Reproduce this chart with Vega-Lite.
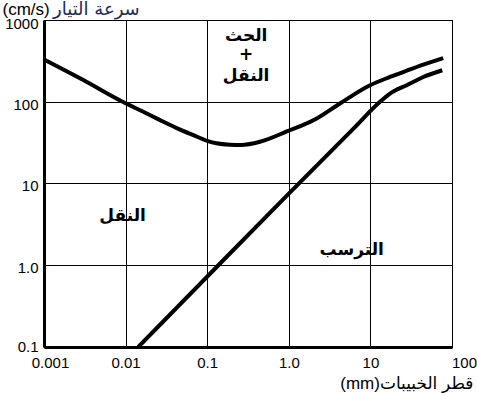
{
  "$schema": "https://vega.github.io/schema/vega-lite/v6.json",
  "autosize": {"type": "none"},
  "width": 408,
  "height": 327,
  "padding": {"left": 44, "top": 20, "right": 25, "bottom": 49},
  "background": "white",
  "config": {
    "view": {"stroke": "black", "strokeWidth": 1},
    "font": "Liberation Sans, Arial, DejaVu Sans",
    "axis": {
      "domainColor": "black", "domainWidth": 3,
      "gridColor": "black", "gridWidth": 1, "gridOpacity": 1,
      "ticks": false, "tickSize": 0,
      "labelColor": "black", "labelFontSize": 15, "labelFont": "Liberation Sans, Arial",
      "titleColor": "black", "titleFontSize": 17, "titleFontWeight": "normal", "titleFont": "Liberation Sans, DejaVu Sans"
    }
  },
  "datasets": {
    "curves": [
      {"curve": "erosion", "d": 0.001, "v": 328},
      {"curve": "erosion", "d": 0.00303, "v": 184},
      {"curve": "erosion", "d": 0.0092, "v": 100},
      {"curve": "erosion", "d": 0.0165, "v": 75.3},
      {"curve": "erosion", "d": 0.0264, "v": 59.6},
      {"curve": "erosion", "d": 0.0423, "v": 47.6},
      {"curve": "erosion", "d": 0.0676, "v": 39.1},
      {"curve": "erosion", "d": 0.1, "v": 33.3},
      {"curve": "erosion", "d": 0.13, "v": 31},
      {"curve": "erosion", "d": 0.19, "v": 29.8},
      {"curve": "erosion", "d": 0.26, "v": 29.6},
      {"curve": "erosion", "d": 0.444, "v": 32.4},
      {"curve": "erosion", "d": 0.93, "v": 43},
      {"curve": "erosion", "d": 2.2, "v": 62.5},
      {"curve": "erosion", "d": 4.24, "v": 95.3},
      {"curve": "erosion", "d": 9.9, "v": 159},
      {"curve": "erosion", "d": 17.4, "v": 201},
      {"curve": "erosion", "d": 27.9, "v": 240},
      {"curve": "erosion", "d": 44.5, "v": 284},
      {"curve": "erosion", "d": 78, "v": 341},
      {"curve": "deposition", "d": 0.0143, "v": 0.1},
      {"curve": "deposition", "d": 0.137, "v": 1.0},
      {"curve": "deposition", "d": 1.0, "v": 7.5},
      {"curve": "deposition", "d": 6.47, "v": 49},
      {"curve": "deposition", "d": 13.1, "v": 99.8},
      {"curve": "deposition", "d": 17.4, "v": 126},
      {"curve": "deposition", "d": 27.9, "v": 159.5},
      {"curve": "deposition", "d": 44.5, "v": 201},
      {"curve": "deposition", "d": 76, "v": 243}
    ],
    "labels": [
      {"label": "الحث", "d": 0.3, "v": 632},
      {"label": "+", "d": 0.3, "v": 371},
      {"label": "النقل", "d": 0.3, "v": 206},
      {"label": "النقل", "d": 0.0092, "v": 4.0},
      {"label": "الترسب", "d": 5.9, "v": 1.54}
    ],
    "ytitle": [
      {"label": "سرعة التيار", "d": 0.00129, "v": 1141}
    ]
  },
  "layer": [
    {
      "data": {"name": "curves"},
      "mark": {"type": "line", "color": "black", "strokeWidth": 4, "interpolate": "monotone", "clip": true},
      "encoding": {
        "x": {
          "field": "d", "type": "quantitative",
          "scale": {"type": "log", "domain": [0.001, 100], "nice": false},
          "axis": {
            "values": [0.001, 0.01, 0.1, 1, 10, 100],
            "labelExpr": "datum.value == 1 ? '1.0' : format(datum.value, '')",
            "labelFlush": false,
            "labelPadding": 8,
            "labelOffset": {"condition": [{"test": "datum.value >= 100", "value": 12}, {"test": "datum.value <= 0.001", "value": 6}], "value": 0},
            "title": "(mm)قطر الخبيبات",
            "titleAlign": "right", "titleAnchor": null,
            "titleX": 429, "titleY": 41, "titleBaseline": "alphabetic"
          }
        },
        "y": {
          "field": "v", "type": "quantitative",
          "scale": {"type": "log", "domain": [0.1, 1000], "nice": false},
          "axis": {
            "values": [0.1, 1, 10, 100, 1000],
            "labelExpr": "datum.value == 1 ? '1.0' : format(datum.value, '')",
            "labelPadding": 6,
            "labelOffset": {"condition": [{"test": "datum.value >= 100", "value": 3}, {"test": "datum.value <= 0.1", "value": -1}], "value": 2},
            "title": "(cm/s)",
            "titleAngle": 0, "titleAlign": "left", "titleBaseline": "alphabetic",
            "titleX": -42, "titleY": -6
          }
        },
        "detail": {"field": "curve"}
      }
    },
    {
      "data": {"name": "labels"},
      "mark": {"type": "text", "fontSize": 17, "fontWeight": "bold", "color": "black", "font": "DejaVu Sans", "align": "center", "baseline": "middle"},
      "encoding": {
        "x": {"field": "d", "type": "quantitative"},
        "y": {"field": "v", "type": "quantitative"},
        "text": {"field": "label"}
      }
    },
    {
      "data": {"name": "ytitle"},
      "mark": {"type": "text", "fontSize": 18, "color": "#1c2a5e", "font": "DejaVu Sans", "align": "left", "baseline": "alphabetic", "clip": false},
      "encoding": {
        "x": {"field": "d", "type": "quantitative"},
        "y": {"field": "v", "type": "quantitative"},
        "text": {"field": "label"}
      }
    }
  ]
}
